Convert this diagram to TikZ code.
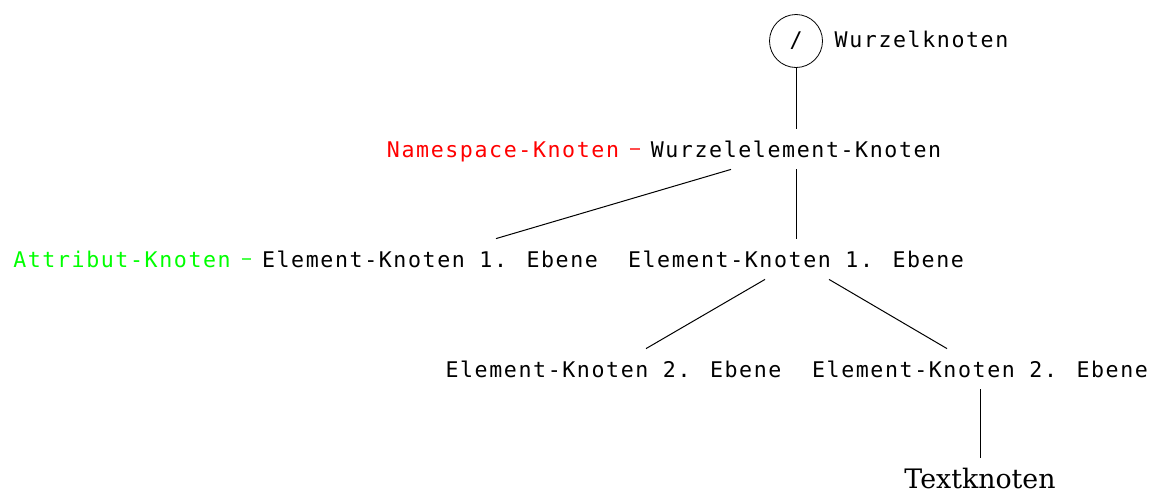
\documentclass[tikz,border=0pt]{standalone}
\usepackage{fontspec}
\newfontfamily\treemono[LetterSpace=7.4]{DejaVu Sans Mono}
\newfontfamily\leafserif{DejaVu Serif}
\begin{document}
\begin{tikzpicture}[x=0.5pt,y=-0.5pt,
  lbl/.style={anchor=base,inner xsep=0pt,inner ysep=4pt,
    text height=10pt,text depth=2pt,
    font=\treemono\fontsize{10.8pt}{13pt}\selectfont},
  rootnode/.style={circle,draw,inner sep=0pt,minimum size=26.5pt,
    font=\treemono\fontsize{10.8pt}{13pt}\selectfont},
  textleaf/.style={anchor=base,inner xsep=0pt,inner ysep=4.5pt,
    text height=10.5pt,text depth=0pt,font=\leafserif\fontsize{13.4pt}{16pt}\selectfont},
  edge/.style={line width=0.5pt},
  side/.style={line width=0.65pt,shorten <=5.2pt,shorten >=5.2pt}]
\useasboundingbox (0,0) rectangle (1154,493);

% root and its label
\node[rootnode] (root) at (796,41) {/};
\node[lbl] (rootlbl) at (921.5,47) {Wurzelknoten};

% document element with its namespace node
\node[lbl] (we) at (796,157) {Wurzelelement-Knoten};
\node[lbl,text=red] (ns) at (503,157) {Namespace-Knoten};

% first level elements with attribute node
\node[lbl,text=green] (attr) at (122,267) {Attribut-Knoten};
\node[lbl] (e1a) at (430,267) {Element-Knoten 1. Ebene};
\node[lbl] (e1b) at (796,267) {Element-Knoten 1. Ebene};

% second level elements
\node[lbl] (e2a) at (613.5,377) {Element-Knoten 2. Ebene};
\node[lbl] (e2b) at (980,377) {Element-Knoten 2. Ebene};

% text leaf
\node[textleaf] (txt) at (980,488) {Textknoten};

% tree edges
\draw[edge] (root.south) -- (we.north);
\draw[edge] ([xshift=-32.5pt]we.south) -- ([xshift=33pt]e1a.north);
\draw[edge] (we.south) -- (e1b.north);
\draw[edge] ([xshift=-15.5pt]e1b.south) -- ([xshift=16.25pt]e2a.north);
\draw[edge] ([xshift=16.5pt]e1b.south) -- ([xshift=-16.5pt]e2b.north);
\draw[edge] (e2b.south) -- (txt.north);

% side links
\draw[side,red!70] (ns.east) -- (we.west);
\draw[side,green!70] (attr.east) -- (e1a.west);
\end{tikzpicture}
\end{document}
